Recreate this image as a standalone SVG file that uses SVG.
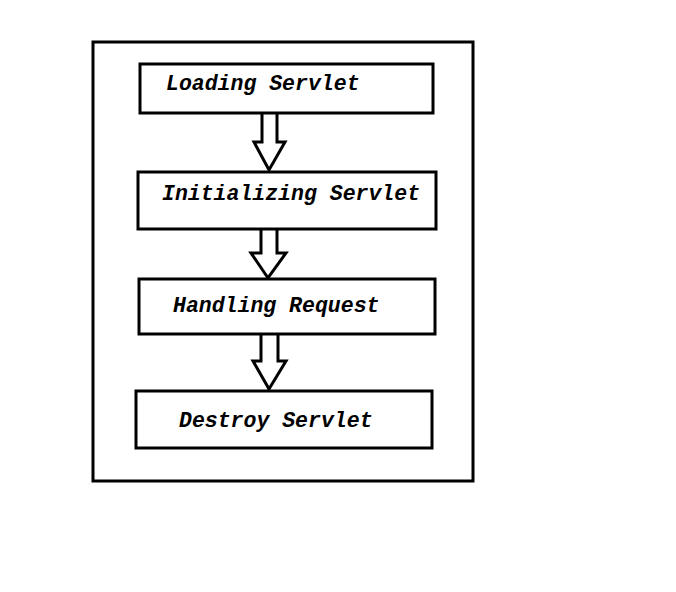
<svg xmlns="http://www.w3.org/2000/svg" width="676" height="592" viewBox="0 0 676 592">
<style>
.box{fill:#fff;stroke:#000;stroke-width:3}
.lbl{font-family:"Liberation Mono","DejaVu Sans Mono",monospace;font-weight:bold;font-style:italic;font-size:21.5px;fill:#000}
.arr{fill:#fff;stroke:#000;stroke-width:3;stroke-linejoin:miter}
</style>
<rect x="0" y="0" width="676" height="592" fill="#fff"/>
<rect id="frame" x="93" y="42" width="380" height="439" fill="none" stroke="#000" stroke-width="3"/>
<g id="connectors">
<path class="arr" d="M262,113 V142 H254 L269,170 L285,142 H277 V113"/>
<path class="arr" d="M261,229 V253 H251 L268,278 L286,253 H277 V229"/>
<path class="arr" d="M261,334 V361 H253 L269,389 L286,361 H278 V334"/>
</g>
<g id="loading">
<rect class="box" x="140" y="64" width="293" height="49"/>
<text class="lbl" x="166" y="90">Loading Servlet</text>
</g>
<g id="initializing">
<rect class="box" x="138" y="172" width="298" height="57"/>
<text class="lbl" x="162" y="200">Initializing Servlet</text>
</g>
<g id="handling">
<rect class="box" x="139" y="279" width="296" height="55"/>
<text class="lbl" x="173" y="312">Handling Request</text>
</g>
<g id="destroy">
<rect class="box" x="136" y="391" width="296" height="57"/>
<text class="lbl" x="179" y="427">Destroy Servlet</text>
</g>
</svg>
